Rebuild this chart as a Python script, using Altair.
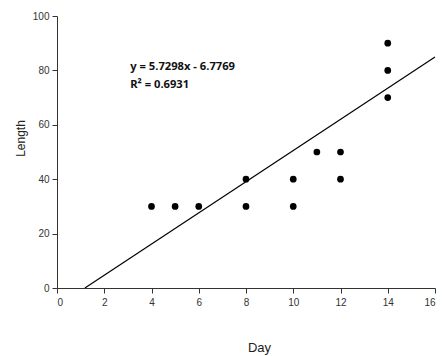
import altair as alt
import pandas as pd

# Observed points
day = [4, 5, 6, 8, 8, 10, 10, 11, 12, 12, 14, 14, 14]
length = [30, 30, 30, 40, 30, 40, 30, 50, 50, 40, 90, 80, 70]

# Trendline endpoints (as drawn, from y = 5.7298x - 6.7769)
trend_x = [1.18, 16]
trend_y = [0, 84.9]

# Equation annotation
eq_text = ["y = 5.7298x - 6.7769", "R\u00b2 = 0.6931"]
eq_x = [3.1, 3.1]
eq_y = [81.3, 74.8]

pts = pd.DataFrame({"Day": day, "Length": length})
trend = pd.DataFrame({"Day": trend_x, "Length": trend_y})
ann = pd.DataFrame({"Day": eq_x, "Length": eq_y, "t": eq_text})

xs = alt.Scale(domain=[0, 16], nice=False, zero=False)
ys = alt.Scale(domain=[0, 100], nice=False)

x_axis = alt.Axis(
    values=list(range(0, 17, 2)), grid=False, domainColor="#333333", tickColor="#333333",
    tickSize=5, labelFont="Liberation Sans", labelFontSize=10, labelColor="#333333",
    labelPadding=4, title="Day", titleFont="Liberation Sans", titleFontSize=13,
    titleFontWeight="normal", titleColor="#222222", titleX=202, titleY=59,
    titleBaseline="middle", titleAlign="center",
)
y_axis = alt.Axis(
    values=list(range(0, 101, 20)), grid=False, domainColor="#333333", tickColor="#333333",
    tickSize=5, labelFont="Liberation Sans", labelFontSize=10, labelColor="#333333",
    labelPadding=3, title="Length", titleFont="Liberation Sans", titleFontSize=12,
    titleFontWeight="normal", titleColor="#222222", titleX=-37, titleY=122,
    titleAngle=270, titleBaseline="middle", titleAlign="center",
)

points = alt.Chart(pts).mark_circle(color="black", size=45, opacity=1).encode(
    x=alt.X("Day:Q", scale=xs, axis=x_axis),
    y=alt.Y("Length:Q", scale=ys, axis=y_axis),
)

line = alt.Chart(trend).mark_line(color="black", strokeWidth=1.2).encode(
    x=alt.X("Day:Q", scale=xs),
    y=alt.Y("Length:Q", scale=ys),
)

text = alt.Chart(ann).mark_text(
    align="left", baseline="middle", font="Noto Sans", fontSize=11.2,
    fontWeight="bold", color="#111111",
).encode(
    x=alt.X("Day:Q", scale=xs),
    y=alt.Y("Length:Q", scale=ys),
    text="t:N",
)

chart = alt.layer(line, points, text).properties(
    width=378, height=272,
    autosize=alt.AutoSizeParams(type="none"),
    padding={"left": 57, "top": 16, "right": 7, "bottom": 68},
    background="white",
).configure_view(stroke=None)

chart.save("out.html", embed_options={"renderer": "svg", "actions": False})
